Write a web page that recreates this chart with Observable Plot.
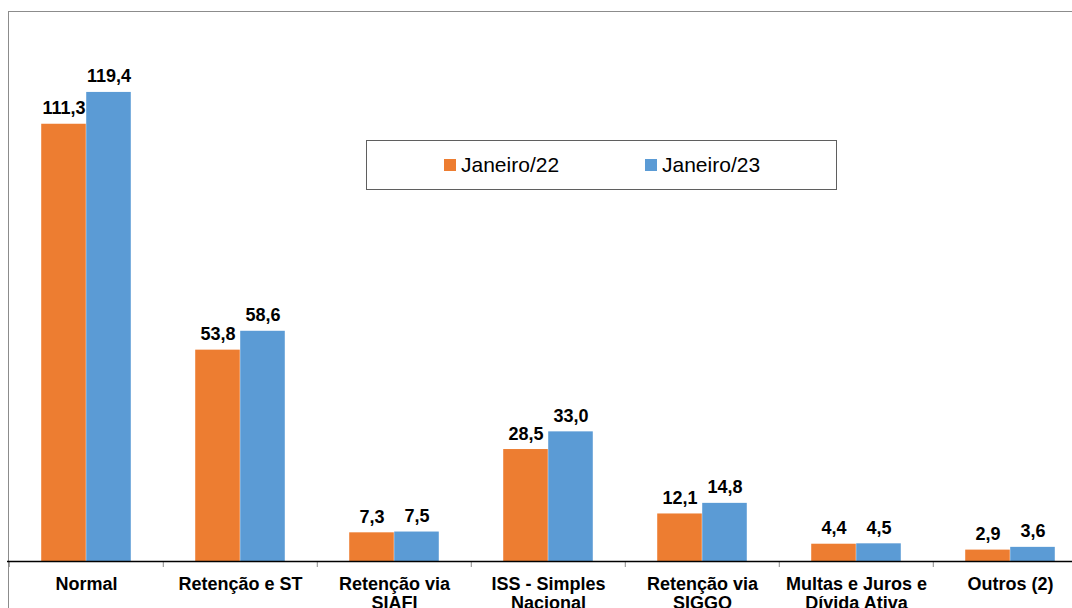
<!DOCTYPE html>
<html>
<head>
<meta charset="utf-8">
<script src="https://cdn.jsdelivr.net/npm/d3@7"></script>
<script src="https://cdn.jsdelivr.net/npm/@observablehq/plot@0.6"></script>
<style>
  html, body { margin: 0; padding: 0; background: #fff; overflow: hidden; width: 1072px; height: 608px; }
  #wrap { position: relative; width: 1072px; height: 608px; overflow: hidden; font-family: "Liberation Sans", Arial, sans-serif; }
  #frame { position: absolute; left: 8px; top: 11px; width: 1200px; height: 800px; border: 1.5px solid #8c8c8c; box-sizing: border-box; }
  #chart { position: absolute; left: 0; top: 0; width: 1095px; }
  #chart svg { max-width: none !important; }
  #legend { position: absolute; left: 366px; top: 140px; width: 471px; height: 50px; border: 1.5px solid #5f5f5f; box-sizing: border-box; background: #fff; }
  .item { position: absolute; top: 0; height: 47px; display: flex; align-items: center; font-size: 21px; color: #000; }
  .sw { width: 12px; height: 12px; margin-right: 5px; margin-top: 1px; }
</style>
</head>
<body>
<div id="wrap">
  <div id="frame"></div>
  <div id="chart"></div>
  <div id="legend"></div>
</div>
<script>
const categories = ["Normal", "Retenção e ST", "Retenção via\nSIAFI", "ISS - Simples\nNacional", "Retenção via\nSIGGO", "Multas e Juros e\nDívida Ativa", "Outros (2)"];
const seriesNames = ["Janeiro/22", "Janeiro/23"];
const jan22 = [111.3, 53.8, 7.3, 28.5, 12.1, 4.4, 2.9];
const jan23 = [119.4, 58.6, 7.5, 33.0, 14.8, 4.5, 3.6];
const colors = ["#ED7D31", "#5B9BD5"];

const d22 = categories.map((c, i) => ({cat: c, v: jan22[i]}));
const d23 = categories.map((c, i) => ({cat: c, v: jan23[i]}));
const fmt = v => v.toFixed(1).replace(".", ",");

const W = 1095, H = 608;
const half = (W - 14) / categories.length / 2;
const bw = 45;

const chart = Plot.plot({
  width: W,
  height: H,
  marginTop: 11,
  marginBottom: 47,
  marginLeft: 7,
  marginRight: 7,
  style: {fontFamily: "Liberation Sans, Arial, sans-serif", background: "transparent", overflow: "visible", maxWidth: "none"},
  x: {domain: categories, padding: 0, axis: null, label: null},
  y: {domain: [0, 140], axis: null, label: null},
  marks: [
    Plot.barY(d22, {x: "cat", y: "v", fill: colors[0], insetLeft: half - bw, insetRight: half}),
    Plot.barY(d23, {x: "cat", y: "v", fill: colors[1], insetLeft: half, insetRight: half - bw}),
    Plot.text(d22, {x: "cat", y: "v", text: d => fmt(d.v), dx: -bw / 2, dy: -10, lineAnchor: "bottom", fontSize: 18, fontWeight: "bold", fill: "#000"}),
    Plot.text(d23, {x: "cat", y: "v", text: d => fmt(d.v), dx: bw / 2, dy: -10, lineAnchor: "bottom", fontSize: 18, fontWeight: "bold", fill: "#000"}),
    Plot.axisX({ticks: categories, tickSize: 6, tickFormat: () => "", label: null, dx: -half, stroke: "#8c8c8c"}),
    Plot.ruleY([0], {stroke: "#000", strokeWidth: 1.5}),
    Plot.text(categories, {x: d => d, frameAnchor: "bottom", lineAnchor: "top", dy: 14, lineHeight: 1.1, fontSize: 18, fontWeight: "bold", fill: "#000", text: d => d})
  ]
});
document.getElementById("chart").appendChild(chart);

const legend = document.getElementById("legend");
const lx = [77, 278];
seriesNames.forEach((s, i) => {
  const it = document.createElement("div");
  it.className = "item";
  it.style.left = lx[i] + "px";
  const sw = document.createElement("span");
  sw.className = "sw";
  sw.style.background = colors[i];
  const t = document.createElement("span");
  t.textContent = s;
  it.appendChild(sw);
  it.appendChild(t);
  legend.appendChild(it);
});
</script>
</body>
</html>
